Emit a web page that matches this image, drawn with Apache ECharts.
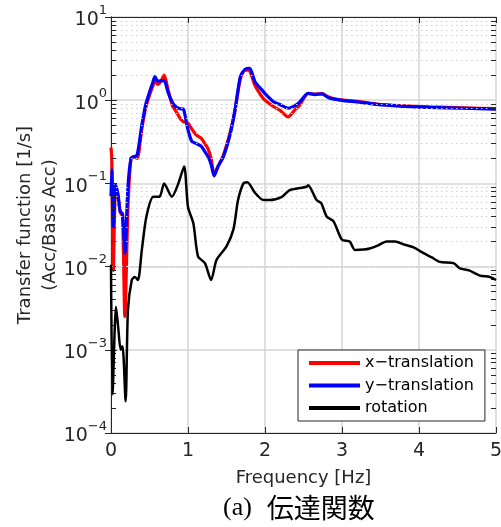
<!DOCTYPE html>
<html>
<head>
<meta charset="utf-8">
<script src="https://cdn.jsdelivr.net/npm/echarts@6/dist/echarts.min.js"></script>
<style>html,body{margin:0;padding:0;background:#fff;}#c{width:501px;height:527px;}</style>
</head>
<body>
<div id="c"></div>
<script>
// ---- data ----
const freqT = [0.00,0.01,0.03,0.06,0.09,0.12,0.15,0.18,0.22,0.26,0.30,0.34,0.40,0.45,0.50,0.54,0.57,0.61,0.65,0.69,0.74,0.80,0.85,0.90,0.94,0.97,1.00,1.05,1.11,1.17,1.22,1.26,1.30,1.34,1.39,1.46,1.55,1.61,1.68,1.74,1.80,1.87,1.96,2.00,2.11,2.20,2.30,2.38,2.45,2.56,2.65,2.74,2.82,2.90,3.02,3.23,3.45,3.75,4.14,4.58,5.00];
const ampX  = [0.27,0.20,0.009,0.09,0.07,0.045,0.04,0.0025,0.05,0.20,0.21,0.20,0.45,0.80,1.15,1.45,1.70,1.55,1.70,2.00,1.35,0.85,0.72,0.60,0.55,0.54,0.53,0.45,0.38,0.35,0.30,0.26,0.20,0.13,0.16,0.22,0.42,0.75,1.80,2.30,2.25,1.50,1.10,1.00,0.84,0.75,0.63,0.75,0.87,1.21,1.18,1.20,1.10,1.04,1.00,0.96,0.90,0.86,0.83,0.81,0.79];
const ampY  = [0.07,0.145,0.03,0.095,0.075,0.046,0.043,0.0145,0.09,0.20,0.21,0.22,0.50,0.88,1.25,1.60,1.92,1.68,1.72,1.72,1.25,0.93,0.82,0.79,0.78,0.60,0.44,0.32,0.30,0.28,0.24,0.21,0.17,0.123,0.16,0.21,0.40,0.76,1.92,2.35,2.42,1.67,1.33,1.20,0.96,0.88,0.80,0.85,0.95,1.21,1.17,1.19,1.08,1.03,0.99,0.95,0.89,0.85,0.82,0.80,0.78];
const freqR = [0.00,0.02,0.065,0.095,0.126,0.15,0.19,0.22,0.27,0.31,0.35,0.40,0.46,0.55,0.63,0.69,0.79,0.875,0.95,1.00,1.07,1.13,1.22,1.30,1.37,1.50,1.59,1.65,1.72,1.77,1.87,1.98,2.06,2.22,2.32,2.45,2.54,2.56,2.67,2.73,2.80,2.89,3.00,3.10,3.17,3.28,3.36,3.47,3.58,3.69,3.80,3.93,4.06,4.16,4.27,4.45,4.53,4.65,4.79,4.92,5.00];
const ampR  = [0.0105,0.00029,0.0033,0.0018,0.001,0.0011,0.00024,0.003,0.0069,0.0075,0.0069,0.0158,0.040,0.069,0.069,0.10,0.069,0.10,0.16,0.052,0.033,0.0133,0.011,0.0069,0.012,0.0175,0.028,0.063,0.10,0.103,0.077,0.063,0.063,0.069,0.083,0.088,0.091,0.095,0.063,0.058,0.040,0.035,0.021,0.020,0.0158,0.016,0.0165,0.018,0.020,0.020,0.0185,0.017,0.0145,0.013,0.0114,0.011,0.0095,0.009,0.0078,0.0075,0.0069];
const seriesNames = ['x\u2212translation','y\u2212translation','rotation'];
const xTicks = [0,1,2,3,4,5];
const yDecades = [-4,-3,-2,-1,0,1];

// ---- build ----
const minorY = [];
for (let k = yDecades[0]; k < yDecades[yDecades.length-1]; k++) {
  for (let m = 2; m <= 9; m++) minorY.push(m * Math.pow(10, k));
}
const txt = '#262626';
const gridLines = minorY.map(v => ({yAxis: v}));
const tickLen = 0.065;
const minorTicks = [];
minorY.forEach(v => {
  minorTicks.push([{coord:[0, v]}, {coord:[tickLen, v]}]);
  minorTicks.push([{coord:[5 - tickLen, v]}, {coord:[5, v]}]);
});

const chart = echarts.init(document.getElementById('c'), null, {renderer:'canvas'});
const baseFont = 'DejaVu Sans';
chart.setOption({
  animation: false,
  backgroundColor: '#fff',
  title: {
    text: '{a|(a)}{k|伝達関数}',
    left: 223, top: 494, padding: 0,
    textStyle: {
      fontWeight: 'normal',
      rich: {
        a: {fontFamily: 'Liberation Serif', fontSize: 26, color: '#000', fontWeight: 'normal', lineHeight: 28},
        k: {fontFamily: 'Noto Sans CJK JP', fontSize: 27, color: '#000', fontWeight: 'normal', lineHeight: 28, padding: [0, 0, 0, 15]}
      }
    }
  },
  grid: {left: 111, right: 5, top: 17, bottom: 94, containLabel: false, outerBoundsMode: 'none', show: false},
  legend: {
    data: seriesNames,
    orient: 'vertical', left: 298, top: 350,
    padding: [4, 11, 4, 11], itemGap: 4.5, itemWidth: 51, itemHeight: 4, itemTextGap: 4,
    icon: 'rect', borderColor: txt, borderWidth: 1, backgroundColor: '#fff',
    textStyle: {fontFamily: baseFont, fontSize: 16, color: '#000', lineHeight: 18}
  },
  xAxis: [{
    type: 'value', min: xTicks[0], max: xTicks[xTicks.length-1], interval: 1,
    name: 'Frequency [Hz]', nameLocation: 'middle', nameGap: 36, nameMoveOverlap: false,
    nameTextStyle: {fontFamily: baseFont, fontSize: 18, color: txt},
    axisLine: {show: true, lineStyle: {color: txt, width: 1}},
    axisTick: {show: true, inside: true, length: 6, lineStyle: {color: txt}},
    axisLabel: {fontFamily: baseFont, fontSize: 19, color: txt, margin: 9},
    splitLine: {show: true, lineStyle: {color: '#d4d4d4', width: 1.5}}
  }, {
    type: 'value', position: 'top', min: xTicks[0], max: xTicks[xTicks.length-1], interval: 1,
    axisLine: {show: true, lineStyle: {color: txt, width: 1}},
    axisTick: {show: true, inside: true, length: 6, lineStyle: {color: txt}},
    axisLabel: {show: false}, splitLine: {show: false}
  }],
  yAxis: [{
    type: 'log', logBase: 10, min: Math.pow(10, yDecades[0]), max: Math.pow(10, yDecades[yDecades.length-1]),
    name: 'Transfer function [1/s]\n(Acc/Bass Acc)', nameLocation: 'middle', nameGap: 48, nameRotate: 90,
    nameMoveOverlap: false,
    nameTextStyle: {fontFamily: baseFont, fontSize: 18, color: txt, lineHeight: 25, align: 'center'},
    axisLine: {show: true, lineStyle: {color: txt, width: 1}},
    axisTick: {show: true, inside: true, length: 6, lineStyle: {color: txt}},
    axisLabel: {
      margin: 4,
      formatter: v => '{b|10}{e|' + Math.round(Math.log10(v)).toString().replace('-', '\u2212') + '}',
      rich: {
        b: {fontFamily: baseFont, fontSize: 19, color: txt, verticalAlign: 'bottom', lineHeight: 26},
        e: {fontFamily: baseFont, fontSize: 13, color: txt, verticalAlign: 'top', lineHeight: 14}
      }
    },
    splitLine: {show: true, lineStyle: {color: '#d4d4d4', width: 1.5}}
  }, {
    type: 'log', logBase: 10, position: 'right', min: Math.pow(10, yDecades[0]), max: Math.pow(10, yDecades[yDecades.length-1]),
    axisLine: {show: true, lineStyle: {color: txt, width: 1}},
    axisTick: {show: true, inside: true, length: 6, lineStyle: {color: txt}},
    axisLabel: {show: false}, splitLine: {show: false}
  }],
  series: [{
    name: 'minorGrid', type: 'line', data: [], z: 1, silent: true,
    markLine: {
      silent: true, symbol: ['none','none'], label: {show: false}, animation: false,
      lineStyle: {color: '#cfcfcf', type: [1.5, 3.5], width: 1.2},
      emphasis: {disabled: true},
      data: gridLines
    }
  }, {
    name: 'minorTicks', type: 'line', data: [], z: 1, silent: true,
    markLine: {
      silent: true, symbol: ['none','none'], label: {show: false}, animation: false,
      lineStyle: {color: txt, type: 'solid', width: 1},
      emphasis: {disabled: true},
      data: minorTicks
    }
  }, {
    name: seriesNames[0], type: 'line', smooth: 0.25, showSymbol: false, z: 3,
    data: freqT.map((f, i) => [f, ampX[i]]),
    itemStyle: {color: '#ff0000'}, lineStyle: {color: '#ff0000', width: 3.2}
  }, {
    name: seriesNames[1], type: 'line', smooth: 0.25, showSymbol: false, z: 4,
    data: freqT.map((f, i) => [f, ampY[i]]),
    itemStyle: {color: '#0000ff'}, lineStyle: {color: '#0000ff', width: 3.2}
  }, {
    name: seriesNames[2], type: 'line', smooth: 0.25, showSymbol: false, z: 5,
    data: freqR.map((f, i) => [f, ampR[i]]),
    itemStyle: {color: '#000000'}, lineStyle: {color: '#000000', width: 2.5}
  }]
});
</script>
</body>
</html>
